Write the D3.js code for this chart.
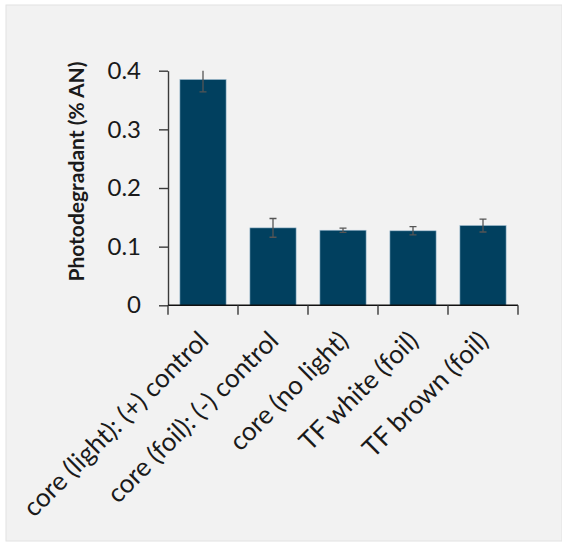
<!DOCTYPE html>
<html>
<head>
<meta charset="utf-8">
<script src="https://cdn.jsdelivr.net/npm/d3@7"></script>
<style>
  html, body { margin: 0; padding: 0; background: #ffffff; }
  svg { display: block; }
  text { font-family: Lato, "Open Sans", sans-serif; fill: #1a1a1a; }
</style>
</head>
<body>
<svg id="chart" width="562" height="542"></svg>
<script>
// Photodegradant levels per sample condition, with error bar half-widths
const categories = [
  "core (light): (+) control",
  "core (foil): (-) control",
  "core (no light)",
  "TF white (foil)",
  "TF brown (foil)"
];
const values = [0.385, 0.132, 0.128, 0.127, 0.136];
const errors = [0.021, 0.016, 0.0035, 0.007, 0.011];
const yTickValues = [0, 0.1, 0.2, 0.3, 0.4];
const yTickLabels = ["0", "0.1", "0.2", "0.3", "0.4"];
const yTitle = "Photodegradant (% AN)";

const svg = d3.select("#chart");

// chart panel background
svg.append("rect")
  .attr("x", 6).attr("y", 5)
  .attr("width", 556).attr("height", 536)
  .attr("fill", "#f2f2f2")
  .attr("stroke", "#e2e2e2")
  .attr("stroke-width", 1);

const plot = { left: 168, right: 518, top: 70.7, bottom: 305.3 };

const x = d3.scaleBand()
  .domain(categories)
  .range([plot.left, plot.right])
  .paddingInner(0.34)
  .paddingOuter(0.17);

const y = d3.scaleLinear()
  .domain([0, 0.4])
  .range([plot.bottom, plot.top]);

// clip region equal to the plot area
svg.append("clipPath").attr("id", "plotClip")
  .append("rect")
  .attr("x", plot.left).attr("y", plot.top)
  .attr("width", plot.right - plot.left)
  .attr("height", plot.bottom - plot.top);

// bars
svg.append("g")
  .selectAll("rect")
  .data(categories)
  .join("rect")
  .attr("x", d => x(d))
  .attr("y", (d, i) => y(values[i]))
  .attr("width", x.bandwidth())
  .attr("height", (d, i) => y(0) - y(values[i]))
  .attr("fill", "#01405f")
  .attr("stroke", "#9fbcd0")
  .attr("stroke-width", 0.6);

// error bars
const eb = svg.append("g")
  .attr("clip-path", "url(#plotClip)")
  .attr("stroke", "#555555")
  .attr("stroke-width", 1.3)
  .attr("fill", "none");
const capW = 3.5;
categories.forEach((c, i) => {
  const cx = x(c) + x.bandwidth() / 2;
  const hi = y(values[i] + errors[i]);
  const lo = y(values[i] - errors[i]);
  eb.append("line").attr("x1", cx).attr("x2", cx).attr("y1", hi).attr("y2", lo);
  eb.append("line").attr("x1", cx - capW).attr("x2", cx + capW).attr("y1", hi).attr("y2", hi);
  eb.append("line").attr("x1", cx - capW).attr("x2", cx + capW).attr("y1", lo).attr("y2", lo);
});

// y axis
const yAxis = svg.append("g")
  .attr("transform", `translate(${plot.left},0)`)
  .call(d3.axisLeft(y)
    .tickValues(yTickValues)
    .tickFormat((d, i) => yTickLabels[i])
    .tickSizeInner(9)
    .tickSizeOuter(0)
    .tickPadding(18));
yAxis.select(".domain").attr("stroke", "#3a3a3a").attr("stroke-width", 1.4);
yAxis.selectAll(".tick line").attr("stroke", "#3a3a3a").attr("stroke-width", 1.4);
yAxis.selectAll(".tick text")
  .attr("font-size", 24)
  .attr("font-family", "Lato, 'Open Sans', sans-serif")
  .attr("fill", "#1a1a1a");

// x axis: baseline with ticks at category boundaries
const boundaries = categories.map(c => x(c) - (x.step() - x.bandwidth()) / 2)
  .concat([plot.right]);
const xAxis = svg.append("g");
xAxis.append("line")
  .attr("x1", plot.left).attr("x2", plot.right)
  .attr("y1", y(0)).attr("y2", y(0))
  .attr("stroke", "#111111").attr("stroke-width", 1.6);
xAxis.selectAll("line.tick")
  .data(boundaries)
  .join("line")
  .attr("class", "tick")
  .attr("x1", d => d).attr("x2", d => d)
  .attr("y1", y(0)).attr("y2", y(0) + 9.5)
  .attr("stroke", "#3a3a3a").attr("stroke-width", 1.4);

// rotated category labels
xAxis.selectAll("text")
  .data(categories)
  .join("text")
  .attr("transform", d => `translate(${x(d) + x.bandwidth() / 2 + 7},${y(0) + 37}) rotate(-45)`)
  .attr("text-anchor", "end")
  .attr("font-size", 26)
  .text(d => d);

// y axis title
svg.append("text")
  .attr("transform", "translate(84,171.5) rotate(-90)")
  .attr("text-anchor", "middle")
  .attr("font-size", 21)
  .attr("font-weight", "bold")
  .text(yTitle);
</script>
</body>
</html>
